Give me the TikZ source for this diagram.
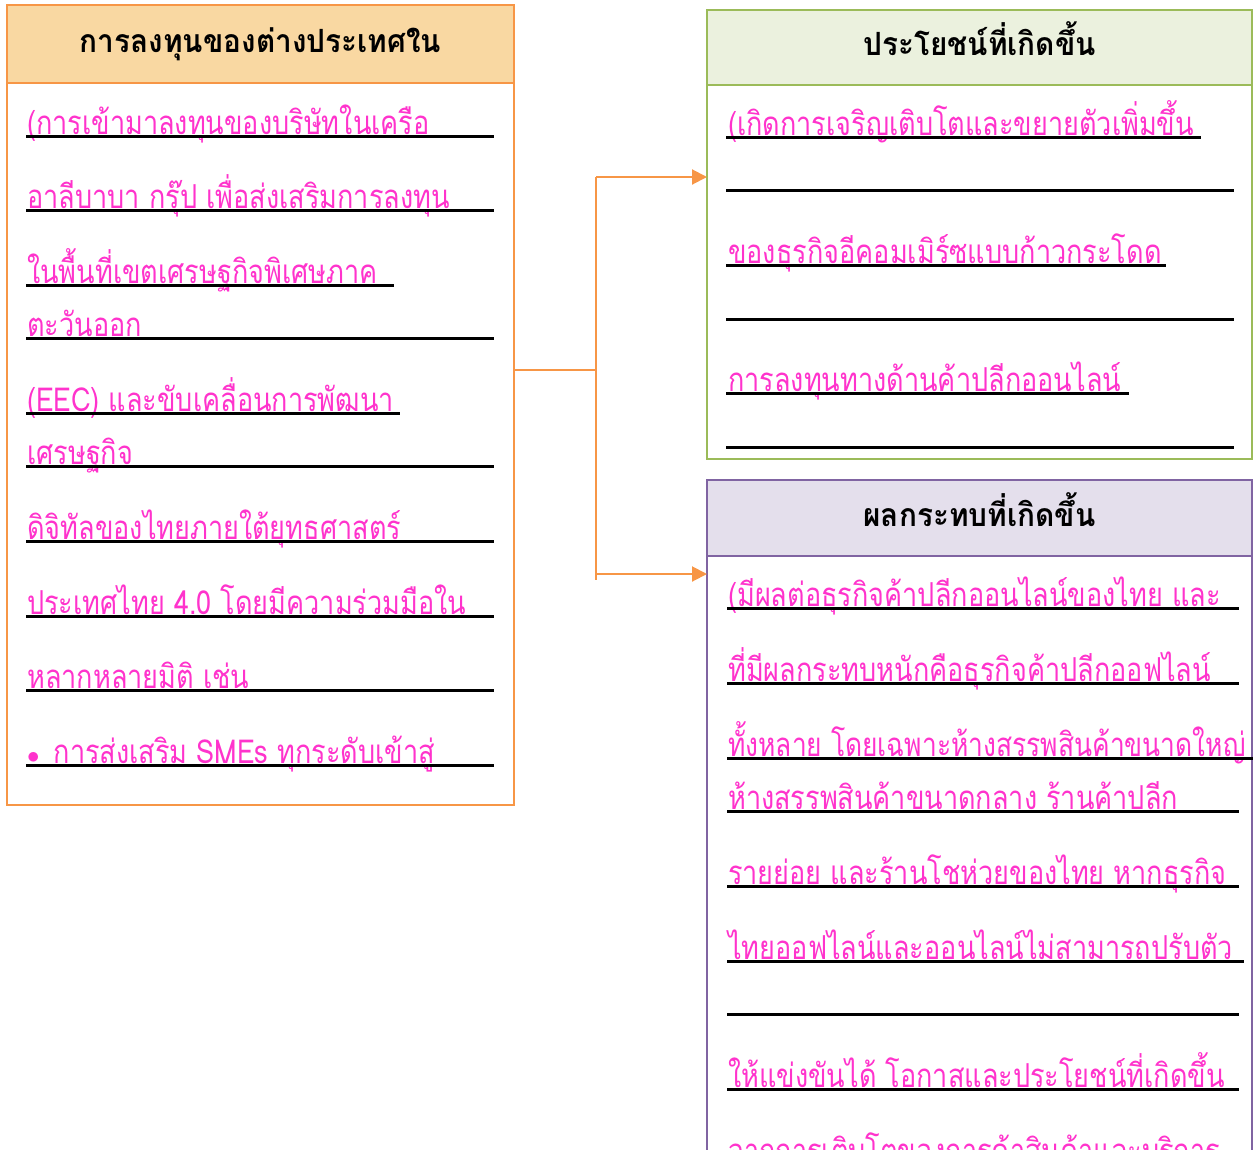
\documentclass[tikz,border=0pt]{standalone}
\usepackage{fontspec}
\newfontfamily\thaifont[Script=Thai, FakeStretch=0.82]{Loma}
\newfontfamily\thaihead[Script=Thai, FakeStretch=0.93]{Loma}
\usetikzlibrary{arrows.meta, positioning}

\definecolor{invorange}{HTML}{F79646}
\definecolor{invfill}{HTML}{F9D8A2}
\definecolor{bengreen}{HTML}{9BBB59}
\definecolor{benfill}{HTML}{EBF1DE}
\definecolor{imppurple}{HTML}{8064A2}
\definecolor{impfill}{HTML}{E4DFEC}
\definecolor{thaipink}{HTML}{FF33CC}

\begin{document}
\begin{tikzpicture}[
  x=1pt, y=-1pt,
  panel/.style={draw, line width=2pt, anchor=north west, inner sep=0pt, outer sep=0pt},
  headbox/.style={panel, text=black, text height=20pt, text depth=4pt,
                  font=\thaihead\bfseries\fontsize{32}{34}\selectfont},
  linetxt/.style={anchor=base west, inner sep=0pt, text=thaipink,
                  font=\thaifont\fontsize{33}{36}\selectfont},
  rule/.style={line width=3pt},
  link/.style={draw=invorange, line width=2pt},
  >={Triangle[length=15pt, width=15pt]}
]
\useasboundingbox (0,0) rectangle (1253,1149);
\clip (0,0) rectangle (1253,1149);

% boxes
\node[panel, draw=invorange, minimum width=507pt, minimum height=800pt] (inv) at (7,5) {};
\node[headbox, draw=invorange, fill=invfill, minimum width=507pt, minimum height=78pt] (invhead) at (7,5) {การลงทุนของต่างประเทศใน};

\node[panel, draw=bengreen, minimum width=545pt, minimum height=449pt] (ben) at (707,10) {};
\node[headbox, draw=bengreen, fill=benfill, minimum width=545pt, minimum height=75pt] (benhead) at (707,10) {ประโยชน์ที่เกิดขึ้น};

\node[panel, draw=imppurple, minimum width=545pt, minimum height=720pt] (imp) at (707,480) {};
\node[headbox, draw=imppurple, fill=impfill, minimum width=545pt, minimum height=76pt] (imphead) at (707,480) {ผลกระทบที่เกิดขึ้น};

% text lines, underlined
\foreach \ry/\rx/\txt [count=\i] in {
  136/494/{(การเข้ามาลงทุนของบริษัทในเครือ},
  210/494/{อาลีบาบา กรุ๊ป เพื่อส่งเสริมการลงทุน},
  285/394/{ในพื้นที่เขตเศรษฐกิจพิเศษภาค},
  338/494/{ตะวันออก},
  413/400/{(EEC) และขับเคลื่อนการพัฒนา},
  466/494/{เศรษฐกิจ},
  541/494/{ดิจิทัลของไทยภายใต้ยุทธศาสตร์},
  616/494/{ประเทศไทย 4.0 โดยมีความร่วมมือใน},
  690/494/{หลากหลายมิติ เช่น},
  765/494/{$\bullet$\hspace{14pt}การส่งเสริม SMEs ทุกระดับเข้าสู่}} {
  \node[linetxt] (inv-\i) at (27,{\ry-2}) {\txt};
  \draw[rule] (26,\ry) -- (\rx,\ry);
}

\foreach \ry/\rx/\txt [count=\i] in {
  137/1201/{(เกิดการเจริญเติบโตและขยายตัวเพิ่มขึ้น},
  190/1234/{},
  265/1166/{ของธุรกิจอีคอมเมิร์ซแบบก้าวกระโดด},
  319/1234/{},
  393/1129/{การลงทุนทางด้านค้าปลีกออนไลน์},
  447/1234/{}} {
  \node[linetxt] (ben-\i) at (728,{\ry-2}) {\txt};
  \draw[rule] (726,\ry) -- (\rx,\ry);
}

\foreach \ry/\rx/\txt [count=\i] in {
  608/1239/{(มีผลต่อธุรกิจค้าปลีกออนไลน์ของไทย และ},
  683/1239/{ที่มีผลกระทบหนักคือธุรกิจค้าปลีกออฟไลน์},
  758/1253/{\scalebox{0.975}[1]{ทั้งหลาย โดยเฉพาะห้างสรรพสินค้าขนาดใหญ่}},
  811/1239/{ห้างสรรพสินค้าขนาดกลาง ร้านค้าปลีก},
  886/1239/{รายย่อย และร้านโชห่วยของไทย หากธุรกิจ},
  961/1244/{ไทยออฟไลน์และออนไลน์ไม่สามารถปรับตัว},
  1014/1239/{},
  1089/1239/{ให้แข่งขันได้ โอกาสและประโยชน์ที่เกิดขึ้น},
  1164/1239/{จากการเติบโตของการค้าสินค้าและบริการ}} {
  \node[linetxt] (imp-\i) at (728,{\ry-2}) {\txt};
  \draw[rule] (727,\ry) -- (\rx,\ry);
}

% connectors
\coordinate (split) at (596,370);
\coordinate (splittop) at (596,177);
\coordinate (splitlow) at (596,574);
\coordinate (splitend) at (596,580);
\draw[link] (split -| inv.east) -- (split);
\draw[link] (splittop) -- (splitend);
\draw[link, ->] (splittop) -- (splittop -| ben.west);
\draw[link, ->] (splitlow) -- (splitlow -| imp.west);
\end{tikzpicture}
\end{document}
